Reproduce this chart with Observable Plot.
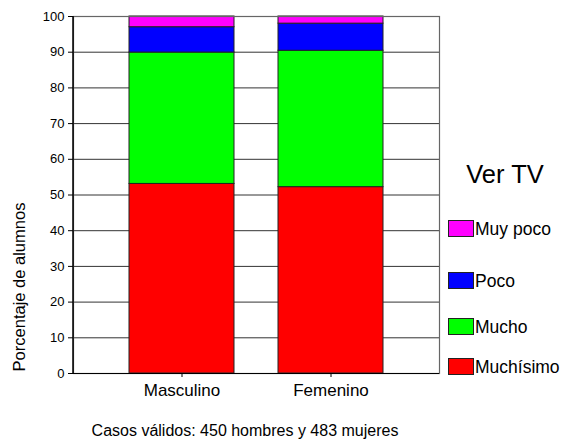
<!DOCTYPE html>
<html>
<head>
<meta charset="utf-8">
<script src="https://cdn.jsdelivr.net/npm/d3@7"></script>
<script src="https://cdn.jsdelivr.net/npm/@observablehq/plot@0.6"></script>
<style>
  html, body { margin: 0; padding: 0; background: #fff; }
  body { font-family: "Liberation Sans", Arial, sans-serif; }
  #wrap { position: relative; width: 563px; height: 446px; overflow: hidden; }
  #wrap svg { position: absolute; left: 0; top: 0; }
  .abs { position: absolute; white-space: nowrap; color: #000; }
  .sw { position: absolute; width: 24px; height: 15px; border: 1px solid #222; }
</style>
</head>
<body>
<div id="wrap"></div>
<script>
const groups = ["Masculino", "Femenino"];
const categories = ["Muchísimo", "Mucho", "Poco", "Muy poco"];
const masculino = [53.1, 36.8, 7.1, 3.0];
const femenino = [52.2, 38.2, 7.6, 2.0];
const colors = ["#ff0000", "#00ff00", "#0000ff", "#ff00ff"];
const yTicks = [0, 10, 20, 30, 40, 50, 60, 70, 80, 90, 100];
const yLabel = "Porcentaje de alumnos";
const legendTitle = "Ver TV";
const caption = "Casos válidos: 450 hombres y 483 mujeres";

const rows = [];
groups.forEach((g, gi) => {
  const vals = gi === 0 ? masculino : femenino;
  categories.forEach((c, ci) => rows.push({group: g, cat: c, value: vals[ci]}));
});

const chart = Plot.plot({
  width: 563,
  height: 446,
  marginLeft: 73,
  marginRight: 124,
  marginTop: 16,
  marginBottom: 73,
  style: {fontFamily: "'Liberation Sans', Arial, sans-serif", background: "transparent"},
  x: {domain: groups, paddingInner: 0.293, paddingOuter: 0.367, label: null},
  y: {domain: [0, 100], label: null},
  color: {domain: categories, range: colors},
  marks: [
    Plot.ruleY(yTicks, {stroke: "#333", strokeWidth: 1}),
    Plot.barY(rows, {x: "group", y: "value", fill: "cat", stroke: "#222", strokeWidth: 1, inset: 0}),
    Plot.frame({stroke: "#666", strokeWidth: 1.2}),
    Plot.ruleY([0], {stroke: "#000", strokeWidth: 1.2}),
    Plot.axisY({ticks: yTicks, tickSize: 5, tickPadding: 4, fontSize: 13, stroke: "#000", label: null}),
    Plot.axisX({tickSize: 4, tickPadding: 6, fontSize: 17, label: null})
  ]
});

const wrap = document.getElementById("wrap");
wrap.appendChild(chart);

// left axis line (black) over the frame
const svg = d3.select(chart);
svg.append("line").attr("x1", 73).attr("x2", 73).attr("y1", 16).attr("y2", 373)
  .attr("stroke", "#000").attr("stroke-width", 1.5);

// y axis label
const yl = document.createElement("div");
yl.className = "abs";
yl.textContent = yLabel;
yl.style.fontSize = "16.5px";
yl.style.left = "19px";
yl.style.top = "287px";
yl.style.transform = "translate(-50%, -50%) rotate(-90deg)";
wrap.appendChild(yl);

// caption
const cap = document.createElement("div");
cap.className = "abs";
cap.textContent = caption;
cap.style.fontSize = "16px";
cap.style.left = "245px";
cap.style.top = "422px";
cap.style.transform = "translateX(-50%)";
wrap.appendChild(cap);

// legend
const lt = document.createElement("div");
lt.className = "abs";
lt.textContent = legendTitle;
lt.style.fontSize = "25.5px";
lt.style.left = "505px";
lt.style.top = "160px";
lt.style.transform = "translateX(-50%)";
wrap.appendChild(lt);

const legendOrder = ["Muy poco", "Poco", "Mucho", "Muchísimo"];
const legendTops = [220, 272, 318, 358];
legendOrder.forEach((name, i) => {
  const ci = categories.indexOf(name);
  const sw = document.createElement("div");
  sw.className = "sw";
  sw.style.left = "448px";
  sw.style.top = legendTops[i] + "px";
  sw.style.background = colors[ci];
  wrap.appendChild(sw);
  const lb = document.createElement("div");
  lb.className = "abs";
  lb.textContent = name;
  lb.style.fontSize = "17.5px";
  lb.style.left = "475px";
  lb.style.top = (legendTops[i] + 8.5) + "px";
  lb.style.transform = "translateY(-50%)";
  wrap.appendChild(lb);
});
</script>
</body>
</html>
